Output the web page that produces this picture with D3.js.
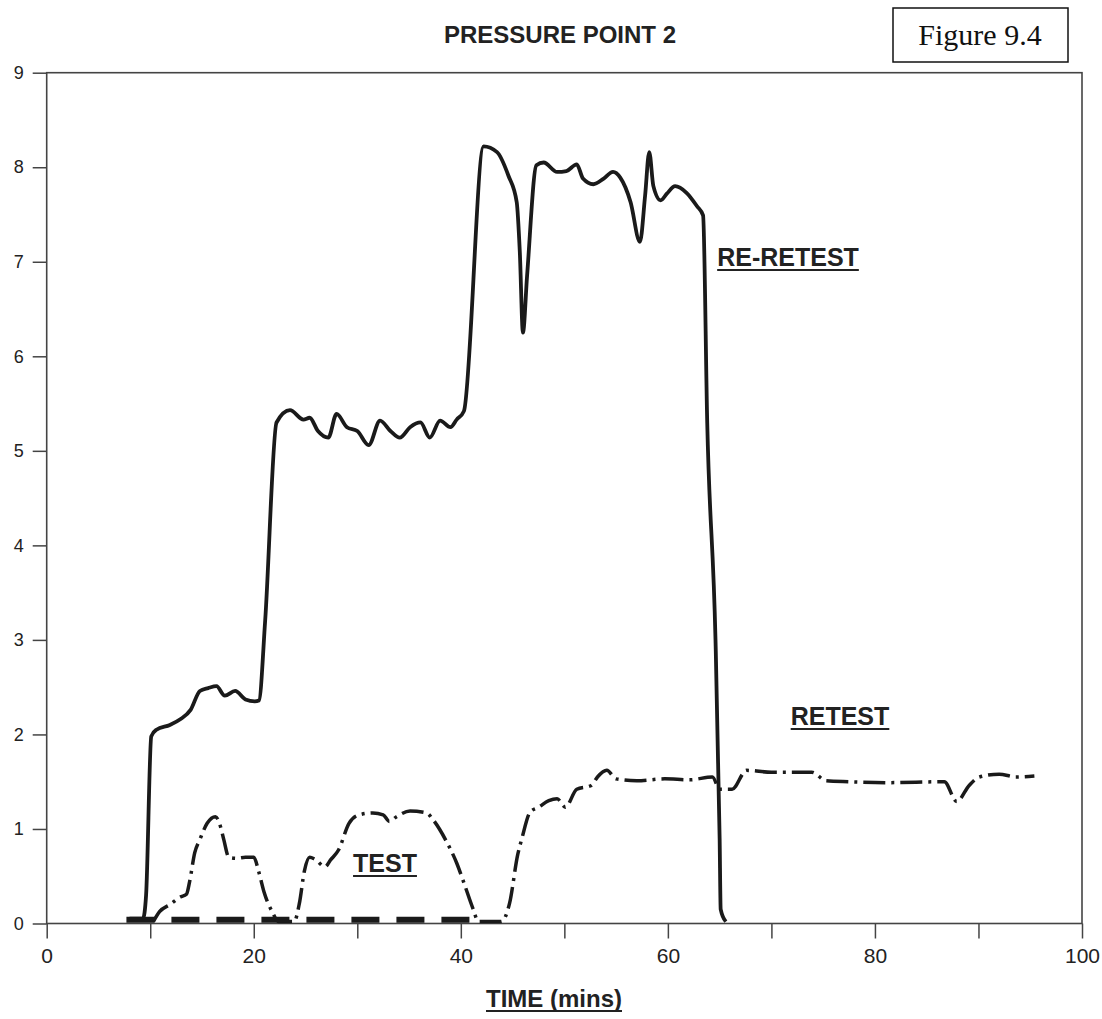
<!DOCTYPE html>
<html>
<head>
<meta charset="utf-8">
<script src="https://cdn.jsdelivr.net/npm/d3@7"></script>
<style>
    body { margin: 0; background: #fff; }
    svg { display: block; }
    .tickLabels text { font-family: "Liberation Sans", Arial, sans-serif; fill: #222; }
    .label { font-family: "Liberation Sans", Arial, sans-serif; font-weight: bold; fill: #222; }
</style>
</head>
<body>
<div class="chart"></div>
<script>
// RE-RETEST (solid line): [time, pressure]
const reRetestTime = [8, 9.3, 9.6, 10.1, 10.6, 11.9, 12.9, 13.9, 14.8, 15.6, 16.4, 17.2, 18.2, 19.2, 20.1, 20.5, 21.1, 22.2,
    23.5, 24.8, 25.4, 26.2, 27.2, 28.0, 29.0, 30.0, 31.1, 32.2, 33.2, 34.1, 35.1, 36.1, 37.0, 38.0, 39.0, 39.6, 40.3,
    42.2, 43.5, 44.6, 45.4, 45.7, 46.0, 46.4, 47.3, 48.0, 49.3, 50.2, 51.2, 51.8, 52.8, 53.8, 54.7, 55.4, 56.4, 57.3,
    57.8, 58.2, 58.6, 59.3, 59.9, 60.7, 61.8, 62.8, 63.4, 63.8, 64.6, 65.0, 65.1, 65.6];
const reRetestValue = [0.05, 0.05, 0.3, 1.98, 2.05, 2.10, 2.16, 2.26, 2.46, 2.49, 2.51, 2.41, 2.46, 2.37, 2.35, 2.36, 3.2, 5.30,
    5.43, 5.33, 5.35, 5.21, 5.14, 5.39, 5.25, 5.21, 5.06, 5.32, 5.21, 5.14, 5.25, 5.30, 5.14, 5.32, 5.25, 5.33, 5.42,
    8.22, 8.16, 7.91, 7.63, 7.10, 6.25, 6.85, 8.02, 8.05, 7.95, 7.96, 8.03, 7.88, 7.82, 7.88, 7.95, 7.89, 7.63, 7.21,
    7.70, 8.16, 7.80, 7.65, 7.72, 7.80, 7.73, 7.59, 7.49, 5.3, 3.0, 0.9, 0.15, 0.02];

// RETEST (dash-dot line)
const retestTime = [10.3, 10.9, 11.9, 12.9, 13.5, 13.8, 14.3, 14.8, 15.5, 16.3, 16.8, 17.1, 17.6, 18.4, 19.2, 20.0, 20.5,
    21.0, 21.8, 22.4, 23.9, 24.4, 24.9, 25.4, 25.9, 26.9, 27.4, 28.2, 29.2, 30.2, 31.5, 32.5, 33.1, 33.8, 35.1, 36.7,
    37.3, 38.6, 39.6, 40.3, 41.2, 41.7, 43.9, 44.7, 45.5, 45.9, 46.7, 47.5, 48.5, 49.3, 50.1, 51.2, 52.6, 53.2, 54.1,
    55.0, 57.0, 59.7, 62.1, 64.3, 65.0, 66.2, 67.6, 70.0, 73.9, 75.3, 77.5, 81.4, 86.7, 87.9, 89.1, 90.1, 92.0, 93.6, 95.4];
const retestValue = [0.02, 0.125, 0.20, 0.28, 0.31, 0.44, 0.75, 0.89, 1.06, 1.13, 1.02, 0.89, 0.70, 0.69, 0.70, 0.70, 0.54,
    0.33, 0.12, 0.02, 0.02, 0.21, 0.56, 0.70, 0.68, 0.60, 0.67, 0.78, 1.06, 1.15, 1.17, 1.15, 1.08, 1.13, 1.19, 1.17,
    1.10, 0.87, 0.64, 0.43, 0.15, 0.02, 0.02, 0.21, 0.73, 0.90, 1.18, 1.23, 1.30, 1.32, 1.23, 1.42, 1.46, 1.55, 1.62,
    1.53, 1.51, 1.53, 1.52, 1.55, 1.42, 1.42, 1.62, 1.60, 1.60, 1.51, 1.50, 1.49, 1.50, 1.29, 1.46, 1.55, 1.58, 1.55, 1.56];

// TEST (thick dashed line, stays at zero)
const testTime = [7.7, 41.1];
const testValue = [0.04, 0.04];

const xTicks = [0, 10, 20, 30, 40, 50, 60, 70, 80, 90, 100];
const yTicks = [0, 1, 2, 3, 4, 5, 6, 7, 8, 9];

const width = 1102, height = 1019;
const margin = { top: 72.7, right: 20, bottom: 95.5, left: 46.7 };
const plotW = 1082 - margin.left;
const plotH = height - margin.top - margin.bottom;

const svg = d3.select(".chart").append("svg")
    .attr("width", width)
    .attr("height", height);

const x = d3.scaleLinear().domain([0, 100]).range([margin.left, margin.left + plotW]);
const y = d3.scaleLinear().domain([0, 9]).range([margin.top + plotH, margin.top]);

// axes
const yAxis = svg.append("g")
    .attr("class", "tickLabels")
    .attr("transform", `translate(${margin.left},0)`)
    .call(d3.axisLeft(y).tickValues(yTicks).tickSize(14).tickPadding(9).tickFormat(d3.format("d")));

const xAxis = svg.append("g")
    .attr("class", "tickLabels")
    .attr("transform", `translate(0,${margin.top + plotH})`)
    .call(d3.axisBottom(x).tickValues(xTicks).tickSize(15).tickPadding(10)
        .tickFormat(d => d % 20 === 0 ? d : ""));

[xAxis, yAxis].forEach(g => {
    g.select(".domain").remove();
    g.selectAll("line").attr("stroke", "#444").attr("stroke-width", 1.5);
    g.selectAll("text").style("font-size", "18px");
});
xAxis.selectAll("text").style("font-family", "'Liberation Sans Narrow', 'Liberation Sans', sans-serif").style("font-size", "21px");

// frame
svg.append("rect")
    .attr("x", x(0)).attr("y", y(9))
    .attr("width", x(100) - x(0)).attr("height", y(0) - y(9))
    .attr("fill", "none").attr("stroke", "#444").attr("stroke-width", 1.6);

const line = d3.line()
    .x(d => x(d[0]))
    .y(d => y(d[1]))
    .curve(d3.curveMonotoneX);

function drawSeries(times, values, width, dash) {
    const data = times.map((t, i) => [t, values[i]]);
    svg.append("path")
        .datum(data)
        .attr("fill", "none")
        .attr("stroke", "#1a1a1a")
        .attr("stroke-width", width)
        .attr("stroke-linejoin", "round")
        .attr("stroke-dasharray", dash)
        .attr("d", line);
}

drawSeries(testTime, testValue, 6, "28,17");
drawSeries(retestTime, retestValue, 3.5, "22,6,3,6");
drawSeries(reRetestTime, reRetestValue, 3.8, null);

// text labels with underline
function underlinedLabel(text, cx, baseline, size) {
    const t = svg.append("text")
        .attr("class", "label")
        .attr("x", cx).attr("y", baseline)
        .attr("text-anchor", "middle")
        .style("font-size", size + "px")
        .text(text);
    const w = t.node().getComputedTextLength();
    svg.append("line")
        .attr("x1", cx - w / 2).attr("x2", cx + w / 2)
        .attr("y1", baseline + 4).attr("y2", baseline + 4)
        .attr("stroke", "#222").attr("stroke-width", 2);
}

svg.append("text")
    .attr("class", "label")
    .attr("x", 560).attr("y", 43)
    .attr("text-anchor", "middle")
    .style("font-size", "24px")
    .text("PRESSURE POINT 2");

underlinedLabel("RE-RETEST", 788, 266, 25);
underlinedLabel("RETEST", 840, 725, 25);
underlinedLabel("TEST", 385, 872, 25);
underlinedLabel("TIME (mins)", 554, 1007, 24);

// figure number box
svg.append("rect")
    .attr("x", 893).attr("y", 8)
    .attr("width", 175).attr("height", 54)
    .attr("fill", "none").attr("stroke", "#111").attr("stroke-width", 1.5);

svg.append("text")
    .attr("x", 980).attr("y", 45)
    .attr("text-anchor", "middle")
    .style("font-family", "'Liberation Serif', 'Times New Roman', serif")
    .style("font-size", "30px")
    .attr("fill", "#111")
    .text("Figure 9.4");
</script>
</body>
</html>
